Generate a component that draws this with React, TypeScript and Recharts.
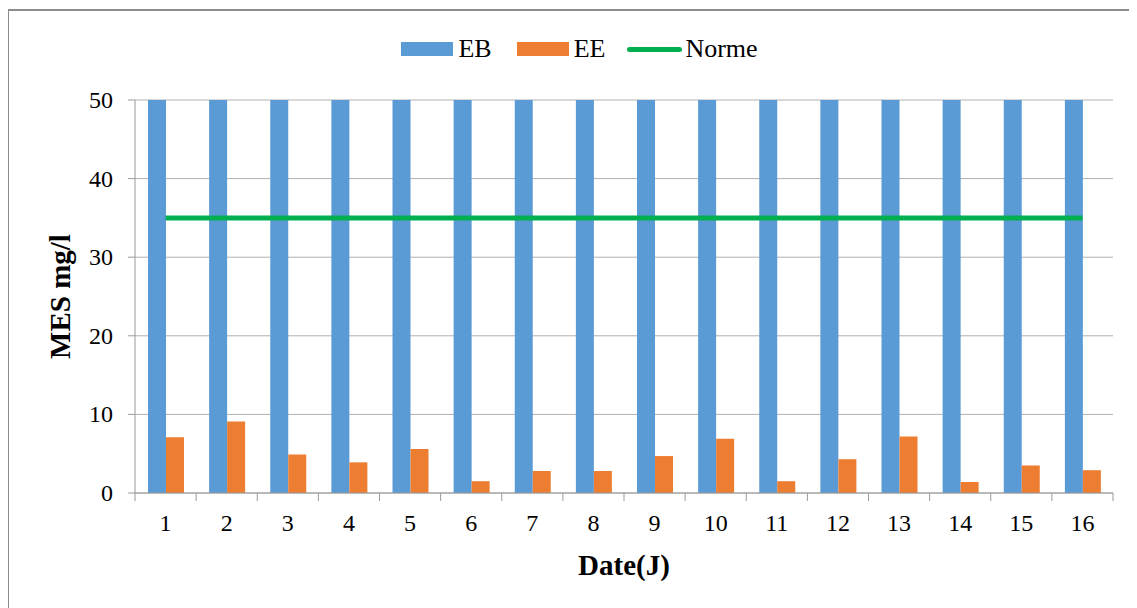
import { ComposedChart, Bar, Line, XAxis, YAxis, CartesianGrid, Legend } from "recharts";

// daily suspended solids (MES), raw water (EB) vs treated water (EE)
const DAYS = ["1", "2", "3", "4", "5", "6", "7", "8", "9", "10", "11", "12", "13", "14", "15", "16"];
const EB = [186, 240, 152, 210, 175, 264, 198, 230, 160, 205, 248, 172, 220, 190, 236, 168];
const EE = [7.1, 9.1, 4.9, 3.9, 5.6, 1.5, 2.8, 2.8, 4.7, 6.9, 1.5, 4.3, 7.2, 1.4, 3.5, 2.9];
const NORME = [35, 35, 35, 35, 35, 35, 35, 35, 35, 35, 35, 35, 35, 35, 35, 35];
const Y_TICKS = [0, 10, 20, 30, 40, 50];

const BLUE = "#5B9BD5";
const ORANGE = "#ED7D31";
const GREEN = "#00B050";
const AXIS = "#9a9a9a";
const GRID = "#b0b0b0";
const FONT = "'Liberation Serif', 'Times New Roman', serif";

const W = 1129;
const H = 600;
const MARGIN = { top: 92, right: 24, bottom: 15, left: 67 };
const PLOT_W = W - MARGIN.left - 60 - MARGIN.right;
const STEP = PLOT_W / DAYS.length;

const data = DAYS.map((d, i) => ({ day: d, EB: EB[i], EE: EE[i], Norme: NORME[i] }));

// Excel-style ticks: marks sit between categories, label in the middle
const DayTick = (props: any) => {
  const { x, y, payload, index } = props;
  return (
    <g>
      <line x1={x - STEP / 2} x2={x - STEP / 2} y1={y} y2={y + 8} stroke={AXIS} />
      {index === DAYS.length - 1 && <line x1={x + STEP / 2} x2={x + STEP / 2} y1={y} y2={y + 8} stroke={AXIS} />}
      <text x={x} y={y + 38} textAnchor="middle" fontSize={24} fontFamily={FONT} fill="#000">
        {payload.value}
      </text>
    </g>
  );
};

const ValueTick = (props: any) => {
  const { x, y, payload } = props;
  return (
    <text x={x} y={y + 8} textAnchor="end" fontSize={24} fontFamily={FONT} fill="#000">
      {payload.value}
    </text>
  );
};

const YTitle = (props: any) => {
  const { viewBox } = props;
  const cy = viewBox.y + viewBox.height / 2;
  return (
    <text x={62} y={cy} transform={`rotate(-90 62 ${cy})`} textAnchor="middle" fontSize={29} fontWeight="bold" fontFamily={FONT} fill="#000">
      MES mg/l
    </text>
  );
};

const XTitle = (props: any) => {
  const { viewBox } = props;
  return (
    <text x={viewBox.x + viewBox.width / 2} y={567} textAnchor="middle" fontSize={29} fontWeight="bold" fontFamily={FONT} fill="#000">
      Date(J)
    </text>
  );
};

const LegendBox = () => (
  <div style={{ display: "flex", justifyContent: "center", alignItems: "center", fontFamily: FONT, fontSize: 26, color: "#000", paddingLeft: 14 }}>
    <span style={{ width: 52, height: 14, background: BLUE, marginRight: 5 }} />
    <span style={{ marginRight: 25 }}>EB</span>
    <span style={{ width: 52, height: 14, background: ORANGE, marginRight: 5 }} />
    <span style={{ marginRight: 22 }}>EE</span>
    <span style={{ width: 55, height: 5, borderRadius: 3, background: GREEN, marginRight: 3 }} />
    <span>Norme</span>
  </div>
);

export default function App() {
  return (
    <div style={{ position: "relative", fontFamily: FONT }}>
      <div style={{ position: "absolute", left: -1, top: 1, width: 1128, height: 598, borderLeft: "2px solid #8c8c8c", borderTop: "2px solid #8c8c8c" }} />
      <ComposedChart width={W} height={H} data={data} margin={MARGIN} barGap={0} barSize={18}>
        <CartesianGrid vertical={false} stroke={GRID} />
        <XAxis
          dataKey="day"
          height={100}
          stroke={AXIS}
          tickLine={false}
          tickSize={0}
          tickMargin={0}
          tick={<DayTick />}
          interval={0}
          label={<XTitle />}
        />
        <YAxis
          width={60}
          domain={[0, 50]}
          ticks={Y_TICKS}
          allowDataOverflow
          stroke={AXIS}
          tickSize={7}
          tickMargin={15}
          tick={<ValueTick />}
          label={<YTitle />}
        />
        <Legend verticalAlign="middle" align="center" layout="horizontal" wrapperStyle={{ top: 26, left: 0, width: W }} content={<LegendBox />} />
        <Bar dataKey="EB" name="EB" fill={BLUE} isAnimationActive={false} />
        <Bar dataKey="EE" name="EE" fill={ORANGE} isAnimationActive={false} />
        <Line dataKey="Norme" name="Norme" stroke={GREEN} strokeWidth={5} dot={false} activeDot={false} isAnimationActive={false} />
      </ComposedChart>
    </div>
  );
}
